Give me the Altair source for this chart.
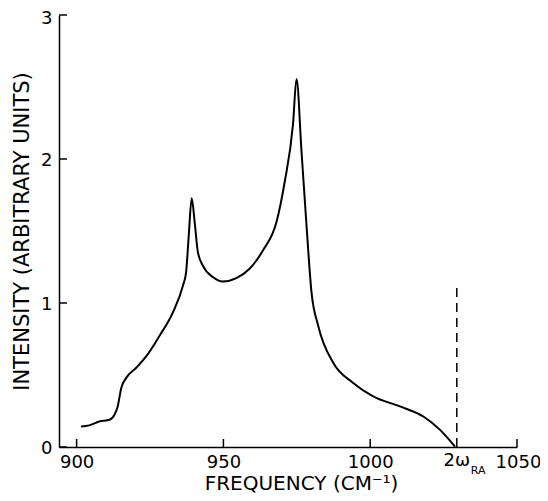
import altair as alt
import pandas as pd

freq = [901.5, 904.3, 907.7, 911.2, 912.9, 914.0, 915.2, 916.9, 920.3, 924.2,
        928.2, 932.8, 936.2, 937.3, 938.2, 939.2, 940.2, 941.3, 943.0, 946.4,
        949.8, 954.4, 958.9, 963.5, 968.1, 970.9, 973.7, 974.9, 976.6, 978.3,
        980.0, 982.3, 987.4, 994.2, 1001.0, 1010.1, 1018.1, 1023.8, 1028.9]
intensity = [0.142, 0.150, 0.177, 0.189, 0.224, 0.282, 0.41, 0.48, 0.55, 0.643,
             0.771, 0.935, 1.12, 1.215, 1.47, 1.727, 1.564, 1.354, 1.26, 1.18,
             1.149, 1.173, 1.238, 1.366, 1.564, 1.844, 2.24, 2.555, 2.054, 1.54,
             1.075, 0.841, 0.585, 0.445, 0.352, 0.282, 0.212, 0.119, 0.002]
tick_x = [900, 950, 1000, 1050]
tick_y = [0, 1, 2, 3]
two_omega_ra = 1029.5
dash_top = 1.12

FONT = "DejaVu Sans"
XTITLE = "FREQUENCY (CM⁻¹)"
YTITLE = "INTENSITY (ARBITRARY UNITS)"

curve = pd.DataFrame({"freq": freq, "intensity": intensity})
xt = pd.DataFrame({"freq": tick_x})
yt = pd.DataFrame({"intensity": tick_y})
mark = pd.DataFrame({"freq": [two_omega_ra], "intensity": [0], "top": [dash_top]})

xs = alt.Scale(domain=[894, 1050], nice=False, zero=False)
ys = alt.Scale(domain=[0, 3], nice=False)

line = alt.Chart(curve).mark_line(color="black", strokeWidth=2, interpolate="monotone").encode(
    x=alt.X("freq:Q", scale=xs, title=XTITLE, axis=alt.Axis(
        values=tick_x, format="d", labelFlush=False,
        labelOffset={"condition": {"test": "datum.value == 1050", "value": 1}, "value": 0})),
    y=alt.Y("intensity:Q", scale=ys, title=YTITLE, axis=alt.Axis(
        values=tick_y, format="d", labelFlush=False,
        labelOffset={"condition": {"test": "datum.value == 3", "value": 3}, "value": 1})),
)

dash = alt.Chart(mark).mark_rule(color="black", strokeWidth=1.5, strokeDash=[9, 6]).encode(
    x=alt.X("freq:Q", scale=xs, title=XTITLE),
    y=alt.Y("intensity:Q", scale=ys, title=YTITLE),
    y2="top:Q",
)

xticks = alt.Chart(xt).mark_rule(color="black", strokeWidth=1.5).encode(
    x=alt.X("freq:Q", scale=xs, title=XTITLE),
    y=alt.value(432), y2=alt.value(424),
)
yticks = alt.Chart(yt).mark_rule(color="black", strokeWidth=1.5).encode(
    y=alt.Y("intensity:Q", scale=ys, title=YTITLE),
    x=alt.value(0), x2=alt.value(8),
)

lab1 = alt.Chart(mark).mark_text(font=FONT, fontSize=18, color="black",
                                 align="center", baseline="middle").encode(
    x=alt.X("freq:Q", scale=xs, title=XTITLE), y=alt.value(446), text=alt.value("2ω"))
lab2 = alt.Chart(mark).mark_text(font=FONT, fontSize=11, color="black",
                                 align="left", baseline="middle", dx=14).encode(
    x=alt.X("freq:Q", scale=xs, title=XTITLE), y=alt.value(456), text=alt.value("RA"))

chart = alt.layer(line, dash, xticks, yticks, lab1, lab2).properties(
    width=458, height=432,
    autosize=alt.AutoSizeParams(type="none"),
    padding={"left": 51, "top": 7, "right": 23, "bottom": 54},
    background="white",
).configure_view(stroke=None).configure_axis(
    ticks=False, grid=False, domainColor="black", domainWidth=1.5,
    labelFont=FONT, labelFontSize=18, labelColor="black", labelPadding=7,
    titleFont=FONT, titleFontSize=18, titleFontWeight="normal", titleColor="black",
).configure_axisX(titlePadding=2, labelPadding=6, titleFontSize=20, titleX=242,
                  titleAlign="center").configure_axisY(titlePadding=8, titleFontSize=21)

chart.save("out.html", embed_options={"renderer": "svg", "actions": False})
